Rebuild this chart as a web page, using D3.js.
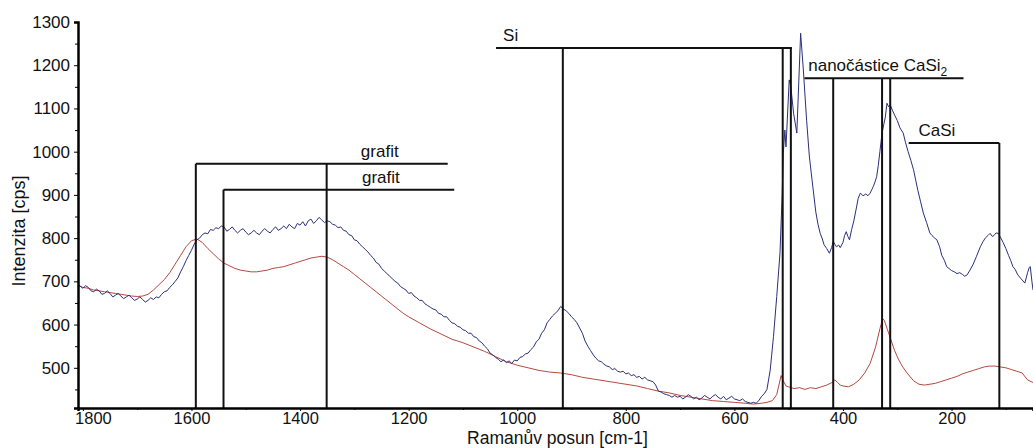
<!DOCTYPE html>
<html>
<head>
<meta charset="utf-8">
<script src="https://cdn.jsdelivr.net/npm/d3@7"></script>
<style>
    body { margin: 0; background: #fff; }
    svg { display: block; }
    svg text { font-family: "Liberation Sans", Arial, sans-serif; }
    .annot line { stroke: #111; stroke-width: 2; }
</style>
</head>
<body>
<div id="chart"></div>
<script>
// 1. DATA - Raman spectra [shift cm-1, intensity cps]
const blueSpectrum = [
    [1808,692],[1800,684],[1795,690],[1790,686],[1785,678],[1780,676],[1775,682],[1770,678],[1765,670],[1760,672],
    [1755,678],[1750,672],[1745,664],[1740,668],[1735,672],[1730,666],[1725,660],[1720,664],[1715,668],[1710,662],
    [1705,656],[1700,659],[1695,664],[1690,658],[1685,652],[1680,656],[1675,662],[1670,658],[1665,664],[1660,662],
    [1655,670],[1650,676],[1645,678],[1640,686],[1635,692],[1630,700],[1625,708],[1620,722],[1615,734],[1610,748],
    [1605,760],[1600,772],[1595,786],[1590,796],[1585,800],[1580,808],[1575,812],[1570,810],[1565,820],[1560,818],
    [1555,824],[1550,822],[1545,828],[1540,826],[1535,816],[1530,820],[1525,826],[1520,818],[1515,812],[1510,818],
    [1505,822],[1500,814],[1495,808],[1490,812],[1485,818],[1480,812],[1475,808],[1470,816],[1465,822],[1460,816],
    [1455,812],[1450,820],[1445,826],[1440,818],[1435,822],[1430,828],[1425,822],[1420,832],[1415,826],[1410,822],
    [1405,834],[1400,830],[1395,838],[1390,828],[1385,840],[1380,844],[1375,834],[1370,840],[1365,848],[1360,842],
    [1355,836],[1350,840],[1345,838],[1340,832],[1335,830],[1330,824],[1325,826],[1320,818],[1315,816],[1310,808],
    [1305,806],[1300,796],[1295,794],[1290,786],[1285,780],[1280,774],[1275,768],[1270,760],[1265,754],[1260,744],
    [1255,740],[1250,730],[1245,724],[1240,718],[1235,712],[1230,706],[1225,700],[1220,696],[1215,688],[1210,684],
    [1205,680],[1200,672],[1195,674],[1190,666],[1185,662],[1180,656],[1175,656],[1170,648],[1165,644],[1160,640],
    [1155,636],[1150,634],[1145,626],[1140,624],[1135,618],[1130,618],[1125,610],[1120,604],[1115,602],[1110,596],
    [1105,594],[1100,588],[1095,586],[1090,580],[1085,580],[1080,572],[1075,570],[1070,562],[1065,558],[1060,550],
    [1055,544],[1050,534],[1045,530],[1040,524],[1035,520],[1030,514],[1025,518],[1020,512],[1015,516],[1010,510],
    [1005,518],[1000,516],[995,524],[990,526],[985,532],[980,534],[975,542],[970,548],[965,560],[960,566],
    [955,580],[950,588],[945,604],[940,612],[935,620],[930,626],[925,632],[920,642],[915,636],[910,632],
    [905,626],[900,618],[895,612],[890,604],[885,592],[880,580],[875,562],[870,550],[865,540],[860,530],
    [855,522],[850,516],[845,514],[840,508],[835,504],[830,502],[825,496],[820,498],[815,492],[810,490],
    [805,492],[800,486],[795,488],[790,482],[785,484],[780,478],[775,480],[770,474],[765,478],[760,472],
    [755,470],[750,468],[745,460],[740,446],[735,444],[730,440],[725,438],[720,436],[715,432],[710,436],
    [705,432],[700,434],[695,428],[690,432],[685,438],[680,434],[675,428],[670,432],[665,426],[660,430],
    [655,436],[650,432],[645,428],[640,434],[635,438],[630,432],[625,428],[620,434],[615,426],[610,430],
    [605,434],[600,428],[595,426],[590,424],[585,428],[580,422],[575,420],[570,418],[565,420],[560,418],
    [555,424],[550,434],[545,440],[540,450],[534,495],[528,572],[522,665],[516,766],[512,900],[510,996],
    [507,1050],[505,1011],[499,1166],[496,1150],[491,1089],[485,1043],[478,1274],[473,1189],[467,1073],[462,990],
    [457,935],[450,860],[446,832],[442,811],[438,798],[435,785],[430,776],[425,765],[421,778],[418,792],
    [415,786],[412,780],[408,784],[405,778],[400,790],[397,806],[394,815],[391,804],[388,796],[384,820],
    [380,840],[375,872],[372,892],[368,904],[363,898],[358,902],[354,898],[350,904],[347,912],[344,920],
    [341,930],[338,942],[335,968],[332,1000],[330,1022],[328,1043],[325,1062],[322,1080],[319,1112],[316,1104],
    [313,1108],[309,1096],[305,1085],[300,1072],[295,1055],[289,1043],[285,1022],[280,1000],[275,980],[270,958],
    [266,934],[262,910],[257,884],[252,858],[246,836],[240,812],[236,806],[231,800],[227,796],[222,780],
    [218,760],[213,748],[209,734],[205,730],[200,725],[195,722],[190,718],[185,720],[180,716],[176,712],
    [172,714],[166,726],[160,740],[154,758],[147,780],[142,792],[138,800],[133,806],[129,811],[125,804],
    [122,806],[118,812],[114,811],[110,802],[105,790],[100,776],[95,760],[91,748],[87,734],[83,728],
    [78,715],[72,706],[65,696],[60,720],[57,732],[55,734],[52,700],[50,680]
];

const redSpectrum = [
    [1808,690],[1800,686],[1790,684],[1780,680],[1770,678],[1760,676],[1750,674],[1740,672],[1730,670],[1720,668],
    [1710,666],[1700,665],[1690,666],[1680,670],[1670,680],[1660,692],[1650,704],[1640,720],[1630,740],[1620,760],
    [1610,780],[1600,794],[1590,798],[1580,790],[1570,776],[1560,764],[1550,752],[1540,742],[1530,736],[1520,730],
    [1510,726],[1500,724],[1490,722],[1480,722],[1470,724],[1460,726],[1450,730],[1440,732],[1430,734],[1420,738],
    [1410,742],[1400,746],[1390,750],[1380,754],[1370,756],[1360,758],[1350,756],[1340,750],[1330,742],[1320,734],
    [1310,726],[1300,716],[1290,706],[1280,696],[1270,686],[1260,676],[1250,666],[1240,656],[1230,646],[1220,636],
    [1210,626],[1200,618],[1180,604],[1160,590],[1140,578],[1120,566],[1100,558],[1080,548],[1060,538],[1040,526],
    [1020,514],[1000,506],[980,500],[960,494],[940,490],[920,488],[900,484],[880,478],[860,474],[840,470],
    [820,466],[800,462],[780,458],[760,452],[740,446],[720,442],[700,436],[680,432],[660,428],[640,424],
    [620,422],[600,420],[580,418],[565,416],[550,418],[540,420],[530,424],[522,438],[518,460],[514,482],
    [510,470],[505,458],[500,456],[490,452],[480,454],[470,450],[460,454],[450,452],[440,456],[430,460],
    [420,466],[415,472],[410,466],[405,460],[400,458],[390,456],[380,462],[370,472],[360,488],[350,510],
    [340,548],[332,590],[327,614],[324,610],[318,588],[312,566],[305,540],[298,520],[290,502],[282,488],
    [270,470],[260,462],[250,460],[240,462],[230,464],[220,468],[210,472],[200,476],[190,480],[180,486],
    [170,490],[160,494],[150,498],[140,502],[130,504],[120,504],[110,502],[100,500],[90,496],[80,492],
    [70,488],[60,472],[50,466]
];

const xTicks = [1800, 1600, 1400, 1200, 1000, 800, 600, 400, 200];
const yTicks = [500, 600, 700, 800, 900, 1000, 1100, 1200, 1300];

// peak assignment brackets: level in cps, vertical lines and bar ends in cm-1
const brackets = [
    { label: "Si", sub: "", level: 1240, from: 1039, to: 494, labelAt: 1026, lines: [916, 511, 496] },
    { label: "nanočástice CaSi", sub: "2", level: 1170, from: 471, to: 178, labelAt: 464, lines: [418, 328, 313] },
    { label: "CaSi", sub: "", level: 1020, from: 279, to: 112, labelAt: 261, lines: [112] },
    { label: "grafit", sub: "", level: 972, from: 1592, to: 1128, labelAt: 1288, lines: [1592, 1351] },
    { label: "grafit", sub: "", level: 912, from: 1541, to: 1116, labelAt: 1286, lines: [1541] }
];

// 2. LAYOUT
const width = 1033, height = 448;
const margin = { top: 22, right: 0, bottom: 40, left: 78 };
const plotBottom = height - margin.bottom;

const x = d3.scaleLinear().domain([1809, 50]).range([margin.left, width - margin.right]);
const y = d3.scaleLinear().domain([407, 1300]).range([plotBottom, margin.top]);

const svg = d3.select("#chart").append("svg")
    .attr("width", width)
    .attr("height", height);

svg.append("defs").append("clipPath").attr("id", "plot-clip")
    .append("rect")
    .attr("x", margin.left).attr("y", 0)
    .attr("width", width - margin.left).attr("height", plotBottom);

// --- SPECTRA ---
const line = d3.line().x(d => x(d[0])).y(d => y(d[1]));
const curves = svg.append("g").attr("clip-path", "url(#plot-clip)");

curves.append("path").datum(redSpectrum)
    .attr("fill", "none").attr("stroke", "#b5483f").attr("stroke-width", 1)
    .attr("d", line);
curves.append("path").datum(blueSpectrum)
    .attr("fill", "none").attr("stroke", "#2b2f7a").attr("stroke-width", 1)
    .attr("d", line);

// --- ANNOTATIONS ---
const annot = svg.append("g").attr("class", "annot");
brackets.forEach(b => {
    const g = annot.append("g");
    g.append("line")
        .attr("x1", x(b.from)).attr("x2", x(b.to))
        .attr("y1", y(b.level)).attr("y2", y(b.level));
    b.lines.forEach(v => {
        g.append("line")
            .attr("x1", x(v)).attr("x2", x(v))
            .attr("y1", y(b.level)).attr("y2", plotBottom);
    });
    const t = g.append("text")
        .attr("x", x(b.labelAt)).attr("y", y(b.level) - 7)
        .style("font-size", "17px").attr("fill", "#111")
        .text(b.label);
    if (b.sub) {
        t.append("tspan").attr("dy", 5).style("font-size", "12px").text(b.sub);
    }
});

// --- AXES ---
const fmt = d3.format("d");
const xAxis = svg.append("g")
    .attr("transform", `translate(0,${plotBottom})`)
    .call(d3.axisBottom(x).tickValues(xTicks).tickSize(3).tickPadding(1.5).tickFormat(fmt));
xAxis.select(".domain").attr("stroke-width", 2.5);
xAxis.selectAll("text").style("font-size", "16.5px").attr("fill", "#111");
// first label is pushed clear of the y axis, like the original
xAxis.selectAll(".tick").filter(d => d === 1800).select("text").attr("dx", 10);

svg.append("g")
    .attr("transform", `translate(0,${plotBottom})`)
    .call(d3.axisBottom(x).tickValues(d3.range(1700, 0, -200)).tickSize(2).tickFormat(""))
    .select(".domain").remove();

const yAxis = svg.append("g")
    .attr("transform", `translate(${margin.left},0)`)
    .call(d3.axisLeft(y).tickValues(yTicks).tickSize(4).tickPadding(4).tickFormat(fmt));
yAxis.select(".domain").attr("stroke-width", 2.5);
yAxis.selectAll("text").style("font-size", "17px").attr("fill", "#111");

svg.append("g")
    .attr("transform", `translate(${margin.left},0)`)
    .call(d3.axisLeft(y).tickValues(d3.range(450, 1300, 100)).tickSize(3).tickFormat(""))
    .select(".domain").remove();

// axis titles
svg.append("text")
    .attr("x", (margin.left + width) / 2 + 2).attr("y", 443.5)
    .attr("text-anchor", "middle")
    .style("font-size", "17.5px").attr("fill", "#111")
    .text("Ramanův posun [cm-1]");

svg.append("text")
    .attr("transform", `translate(25,${(margin.top + plotBottom) / 2 + 16}) rotate(-90)`)
    .attr("text-anchor", "middle")
    .style("font-size", "18px").attr("fill", "#111")
    .text("Intenzita [cps]");
</script>
</body>
</html>
